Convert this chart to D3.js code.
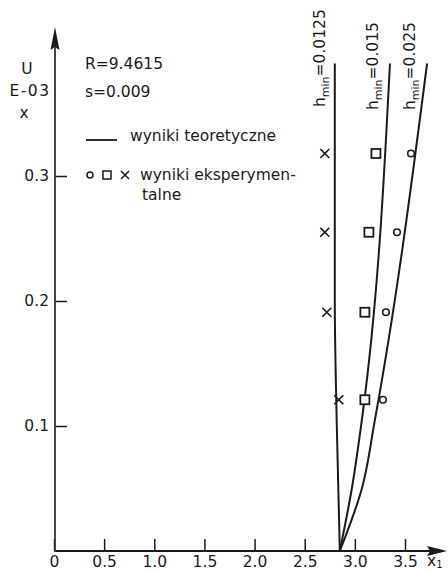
<!DOCTYPE html>
<html>
<head>
<meta charset="utf-8">
<script src="https://cdn.jsdelivr.net/npm/d3@7"></script>
<style>
  html, body { margin: 0; padding: 0; background: #fff; }
  svg { display: block; }
  text { font-family: "DejaVu Sans", sans-serif; fill: #1a1a1a; }
</style>
</head>
<body>
<svg id="chart" width="448" height="572"></svg>
<script>
// Axis ticks
const xTicks = [0, 0.5, 1.0, 1.5, 2.0, 2.5, 3.0, 3.5];
const xTickLabels = ["0", "0.5", "1.0", "1.5", "2.0", "2.5", "3.0", "3.5"];
const yTicks = [0.1, 0.2, 0.3];
const yTickLabels = ["0.1", "0.2", "0.3"];

// Experimental results: U levels and x1 for each h_min
const expU = [0.121, 0.191, 0.255, 0.318];
const crossX = [2.84, 2.72, 2.70, 2.70];   // h_min = 0.0125
const squareX = [3.10, 3.10, 3.14, 3.21];  // h_min = 0.015
const circleX = [3.28, 3.31, 3.42, 3.56];  // h_min = 0.025

// Theoretical curves x1(U)
const theoryU0125 = [0, 0.1, 0.2, 0.39];
const theoryX0125 = [2.85, 2.82, 2.80, 2.80];
const theoryU015 = [0, 0.05, 0.105, 0.39];
const theoryX015 = [2.85, 2.97, 3.07, 3.35];
const theoryU025 = [0, 0.05, 0.105, 0.39];
const theoryX025 = [2.85, 3.07, 3.20, 3.72];

const curveLabels = ["0.0125", "0.015", "0.025"];

const svg = d3.select("#chart");
const ink = "#1a1a1a";
const FS = 15.5;

const x = d3.scaleLinear().domain([0, 3.5]).range([54, 405]);
const y = d3.scaleLinear().domain([0, 0.3]).range([551, 176]);

// X axis: ticks point up into the plot, labels below
const gx = svg.append("g")
  .attr("transform", `translate(0,${y(0)})`)
  .call(d3.axisBottom(x).tickValues(xTicks)
    .tickFormat((d, i) => xTickLabels[i])
    .tickSizeInner(-12).tickSizeOuter(0).tickPadding(5));
gx.select(".domain").remove();
gx.selectAll(".tick line").attr("stroke", ink).attr("stroke-width", 1.5);
gx.selectAll(".tick text").attr("font-size", FS).attr("font-family", "DejaVu Sans").attr("fill", ink);

// Y axis: ticks point right, labels to the left
const gy = svg.append("g")
  .attr("transform", `translate(${x(0) + 1},0)`)
  .call(d3.axisLeft(y).tickValues(yTicks)
    .tickFormat((d, i) => yTickLabels[i])
    .tickSizeInner(-12).tickSizeOuter(0).tickPadding(6));
gy.select(".domain").remove();
gy.selectAll(".tick line").attr("stroke", ink).attr("stroke-width", 1.5);
gy.selectAll(".tick text").attr("font-size", FS).attr("font-family", "DejaVu Sans").attr("fill", ink);

// Axis lines with arrowheads
const x0 = x(0) + 1, y0 = y(0);
svg.append("line").attr("x1", x0).attr("y1", y0).attr("x2", 430).attr("y2", y0)
  .attr("stroke", ink).attr("stroke-width", 2);
svg.append("path").attr("d", `M447,${y0} L427,${y0 - 5} L430,${y0} L427,${y0 + 5} Z`).attr("fill", ink);
svg.append("line").attr("x1", x0).attr("y1", y0 + 1).attr("x2", x0).attr("y2", 46)
  .attr("stroke", "#333").attr("stroke-width", 1.8);
svg.append("path").attr("d", `M${x0},27 L${x0 - 4.5},50 L${x0},47 L${x0 + 4.5},50 Z`).attr("fill", ink);

// Axis titles
const xt = svg.append("text").attr("x", 427).attr("y", 566).attr("font-size", FS);
xt.append("tspan").text("x");
xt.append("tspan").attr("font-size", 10).attr("dy", 2).text("1");

svg.append("text").attr("x", 27).attr("y", 74).attr("text-anchor", "middle").attr("font-size", FS).text("U");
svg.append("text").attr("x", 30).attr("y", 96).attr("text-anchor", "middle").attr("font-size", FS)
  .attr("letter-spacing", 1.5).text("E-03");
svg.append("text").attr("x", 24).attr("y", 118).attr("text-anchor", "middle").attr("font-size", FS).text("x");

// Parameters
svg.append("text").attr("x", 85).attr("y", 69).attr("font-size", FS).text("R=9.4615");
svg.append("text").attr("x", 85).attr("y", 97).attr("font-size", FS).text("s=0.009");

// Legend
svg.append("line").attr("x1", 86).attr("x2", 117).attr("y1", 140).attr("y2", 140)
  .attr("stroke", ink).attr("stroke-width", 1.8);
svg.append("text").attr("x", 130).attr("y", 141).attr("font-size", FS).text("wyniki teoretyczne");
svg.append("circle").attr("cx", 90).attr("cy", 175).attr("r", 3).attr("fill", "none")
  .attr("stroke", ink).attr("stroke-width", 1.5);
svg.append("rect").attr("x", 103).attr("y", 171).attr("width", 8).attr("height", 8).attr("fill", "none")
  .attr("stroke", ink).attr("stroke-width", 1.5);
svg.append("path").attr("d", "M121,171 L129,179 M129,171 L121,179").attr("stroke", ink).attr("stroke-width", 1.5);
svg.append("text").attr("x", 140).attr("y", 180).attr("font-size", FS).text("wyniki eksperymen-");
svg.append("text").attr("x", 142).attr("y", 200).attr("font-size", FS).text("talne");

// Theoretical curves, drawn top-down so the pixel y runs monotonically
const line = d3.line().x(d => x(d[0])).y(d => y(d[1])).curve(d3.curveMonotoneY);
const curves = [
  d3.zip(theoryX0125, theoryU0125).reverse(),
  d3.zip(theoryX015, theoryU015).reverse(),
  d3.zip(theoryX025, theoryU025).reverse()
];
svg.selectAll("path.theory").data(curves).enter().append("path")
  .attr("class", "theory")
  .attr("d", line)
  .attr("fill", "none").attr("stroke", ink).attr("stroke-width", 2);

// Curve labels, rotated, above each curve
const labelPos = [[325, 107], [378, 110], [415, 110]];
curveLabels.forEach((v, i) => {
  const t = svg.append("text")
    .attr("transform", `translate(${labelPos[i][0]},${labelPos[i][1]}) rotate(-90)`)
    .attr("font-size", FS);
  t.append("tspan").text("h");
  t.append("tspan").attr("font-size", 11).attr("dy", 4).text("min");
  t.append("tspan").attr("dy", -4).text("=" + v);
});

// Experimental points
const crosses = d3.zip(crossX, expU);
svg.selectAll("path.cross").data(crosses).enter().append("path")
  .attr("class", "cross")
  .attr("d", d => {
    const cx = x(d[0]), cy = y(d[1]);
    return `M${cx - 4.5},${cy - 4.5} L${cx + 4.5},${cy + 4.5} M${cx + 4.5},${cy - 4.5} L${cx - 4.5},${cy + 4.5}`;
  })
  .attr("stroke", ink).attr("stroke-width", 1.7).attr("fill", "none");

const squares = d3.zip(squareX, expU);
svg.selectAll("rect.sq").data(squares).enter().append("rect")
  .attr("class", "sq")
  .attr("x", d => x(d[0]) - 4.5).attr("y", d => y(d[1]) - 4.5)
  .attr("width", 9).attr("height", 9)
  .attr("fill", "#fff").attr("stroke", ink).attr("stroke-width", 1.8);

const circles = d3.zip(circleX, expU);
svg.selectAll("circle.pt").data(circles).enter().append("circle")
  .attr("class", "pt")
  .attr("cx", d => x(d[0])).attr("cy", d => y(d[1])).attr("r", 3.3)
  .attr("fill", "#fff").attr("stroke", ink).attr("stroke-width", 1.6);
</script>
</body>
</html>
